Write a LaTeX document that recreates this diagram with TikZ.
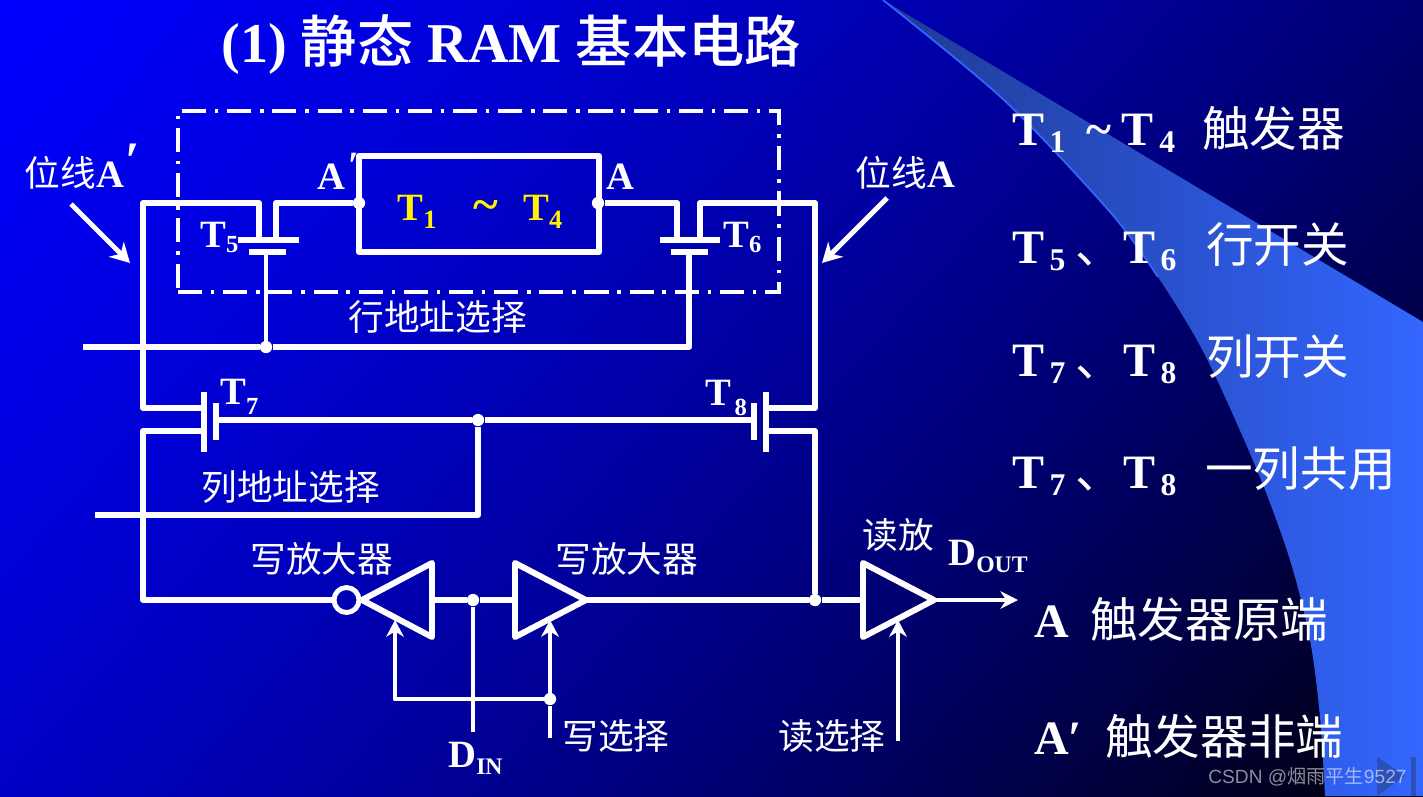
\documentclass[tikz,border=0pt]{standalone}
\usepackage{fontspec}
\setmainfont{Liberation Serif}
\newfontfamily\cjk{Noto Sans CJK SC}
\newfontfamily\cjkm{Noto Sans CJK SC Medium}
\newfontfamily\wmfont{Liberation Sans}
\usetikzlibrary{arrows.meta}
\definecolor{wingl}{HTML}{1F3A94}
\definecolor{wingm}{HTML}{3060E8}
\definecolor{wingr}{HTML}{3366FF}
\definecolor{navbl}{HTML}{2B50B8}
\pgfdeclarefunctionalshading{slidebg}{\pgfpoint{0bp}{0bp}}{\pgfpoint{100bp}{100bp}}{}{
  25 sub 50 div 1 exch sub 0.331 mul
  exch 25 sub 50 div 0.669 mul add
  dup dup mul 0.42 mul exch 0.55 mul add 1 exch sub
  0 0 3 -1 roll
}
\newcommand{\sz}[1]{\fontsize{#1pt}{#1pt}\selectfont}
\newcommand{\subn}[3]{\raisebox{-#2pt}{\sz{#3}#1}}
\newcommand{\dun}{{\mdseries\cjk\sz{26.9}\hspace{6pt}、\hspace{-6pt}}}
\begin{document}
\begin{tikzpicture}[x=0.02cm,y=-0.02cm]

\tikzstyle{wire} = [draw=white, line width=3.4pt, line join=round]
\tikzstyle{thin} = [draw=white, line width=2.8pt, line join=round]
\tikzstyle{dot} = [circle, fill=white, inner sep=0pt, minimum size=7pt]
\tikzstyle{sel} = [thin, -{Stealth[length=9.5pt,width=10pt,inset=3pt]}]
\tikzstyle{bitarr} = [thin, -{Stealth[length=11pt,width=12pt,inset=3.5pt]}]
\tikzstyle{txt} = [anchor=base west, inner sep=0pt, text=white]
\tikzstyle{zh} = [txt, font=\cjk\sz{20.3}]
\tikzstyle{zhb} = [txt, font=\cjk\sz{27.1}]
\tikzstyle{lab} = [txt, font=\bfseries\sz{22}]
\tikzstyle{big} = [txt, font=\bfseries\sz{27.3}]

\useasboundingbox (0,0) rectangle (1423,796);
\shade[shading=slidebg] (0,0) rectangle (1423,796);
\shade[left color=wingl, middle color=wingm, right color=wingr] (883,0) -- (1423,322) -- (1423,796) -- plot[smooth] coordinates {(1325,796) (1320,717) (1310,640) (1290,560) (1257,470) (1205,355) (1158,277) (1111,213) (1004,100) (883,0)} -- cycle;
\draw[wingr, line width=1pt] plot[smooth] coordinates {(1158,277) (1111,213) (1004,100) (883,0)};
\fill[navbl] (1377,757) -- (1405,776) -- (1377,796) -- cycle;
\fill[navbl] (1411,757) rectangle (1416,796);

% title
\node (title) [txt, font=\bfseries\sz{32}] at (221,62) {(1) {\mdseries\cjkm 静态} RAM {\mdseries\cjkm 基本电路}};

% dash-dot box and flip-flop
\node (cell) [draw=white, line width=1.8pt, dash pattern=on 13.7pt off 5pt on 2pt off 5pt, minimum width=12.02cm, minimum height=3.62cm] at (478.5,201.5) {};
\node (aprime) [lab] at (348,178) {′};
\node (ff) [wire, minimum width=4.8cm, minimum height=1.92cm, inner sep=0pt] at (479,204) {};
\node (ffl) [anchor=base, inner sep=0pt, text=yellow, font=\bfseries\sz{22}] at (480,220) {T\subn{1}{5}{15}\hspace{37\dimexpr0.5692pt}{\sz{27}\textasciitilde}\hspace{25\dimexpr0.5692pt}T\subn{4}{5}{15}};
\node (ja) [dot] at (359,203) {};
\node (jb) [dot] at (598,203) {};

% T5 and T6
\coordinate (t5a) at (259,240);
\coordinate (t5b) at (276,240);
\coordinate (t5cl) at (238,240);
\coordinate (t5cr) at (299,240);
\coordinate (t5gl) at (249,252);
\coordinate (t5gr) at (286,252);
\coordinate (t5g) at (266,252);
\coordinate (t6a) at (677,240);
\coordinate (t6b) at (700,240);
\coordinate (t6cl) at (660,240);
\coordinate (t6cr) at (720,240);
\coordinate (t6gl) at (671,252);
\coordinate (t6gr) at (708,252);
\coordinate (t6g) at (689,252);
\draw[wire] (t5cl) -- (t5cr);
\draw[wire] (t5gl) -- (t5gr);
\draw[wire] (t6cl) -- (t6cr);
\draw[wire] (t6gl) -- (t6gr);
\draw[wire] (t5b) |- (ja);
\draw[wire] (t6a) |- (jb);

% T7 and T8
\coordinate (t7u) at (204,392);
\coordinate (t7d) at (204,452);
\coordinate (t7gu) at (216,403);
\coordinate (t7gd) at (216,440);
\coordinate (t7g) at (216,420);
\coordinate (t7a) at (204,408);
\coordinate (t7b) at (204,431);
\coordinate (t8u) at (766,392);
\coordinate (t8d) at (766,452);
\coordinate (t8gu) at (754,403);
\coordinate (t8gd) at (754,440);
\coordinate (t8g) at (754,420);
\coordinate (t8a) at (766,408);
\coordinate (t8b) at (766,431);
\draw[wire] (t7u) -- (t7d);
\draw[wire] (t7gu) -- (t7gd);
\draw[wire] (t8u) -- (t8d);
\draw[wire] (t8gu) -- (t8gd);

% bit lines
\coordinate (bla) at (143,203);
\coordinate (blb) at (143,408);
\coordinate (blc) at (143,431);
\coordinate (brb) at (815,408);
\coordinate (brc) at (815,431);
\coordinate (brt) at (815,203);
\node (jo) [dot] at (815,600) {};
\draw[wire] (t5a) -- (t5a |- bla) -- (bla) -- (blb) -- (t7a);
\draw[wire] (t6b) -- (t6b |- brt) -- (brt) -- (brb) -- (t8a);
\draw[wire] (t8b) -- (brc) -- (jo);

% row and column select
\node (jr) [dot] at (266,347) {};
\node (jc) [dot] at (478,420) {};
\coordinate (rowin) at (83,347);
\coordinate (colin) at (95,515);
\coordinate (colc) at (478,515);
\draw[thin] (t5g) -- (jr);
\draw[wire] (rowin) -- (jr) -- (t6g |- jr) -- (t6g);
\draw[wire] (t7g) -- (jc) -- (t8g);
\draw[wire] (jc) -- (colc) -- (colin);

% amplifiers
\node (bub) [circle, draw=white, line width=2.8pt, inner sep=0pt, minimum size=5mm] at (346.5,600) {};
\coordinate (wla) at (362,600);
\coordinate (wlb) at (432,563);
\coordinate (wlc) at (432,637);
\coordinate (wli) at (432,600);
\coordinate (wra) at (586,600);
\coordinate (wrb) at (515,563);
\coordinate (wrc) at (515,637);
\coordinate (wri) at (515,600);
\coordinate (rda) at (934,600);
\coordinate (rdb) at (863,563);
\coordinate (rdc) at (863,637);
\coordinate (rdi) at (863,600);
\coordinate (bld) at (143,600);
\coordinate (dout) at (1018,600);
\node (jd) [dot] at (473,600) {};
\node (js) [dot] at (550,699) {};
\draw[wire] (wla) -- (wlb) -- (wlc) -- cycle;
\draw[wire] (wra) -- (wrb) -- (wrc) -- cycle;
\draw[wire] (rda) -- (rdb) -- (rdc) -- cycle;
\draw[wire] (t7b) -- (blc) -- (bld) -- (bub);
\draw[wire] (wli) -- (jd) -- (wri);
\draw[wire] (wra) -- (jo) -- (rdi);
\draw[thin, -{Stealth[length=10pt,width=10pt]}] (rda) -- (dout);

% select lines
\coordinate (din) at (473,732);
\coordinate (wsel) at (550,738);
\coordinate (wlt) at (395,620);
\coordinate (wrt) at (550,620);
\coordinate (wsc) at (395,699);
\coordinate (rsel) at (898,741);
\coordinate (rdt) at (898,620);
\draw[thin] (jd) -- (din);
\draw[thin] (wsel) -- (js);
\draw[sel] (js) -- (wrt);
\draw[sel] (js) -- (wsc) -- (wlt);
\draw[sel] (rsel) -- (rdt);

% bit line arrows
\coordinate (al0) at (71,204);
\coordinate (al1) at (130,263);
\coordinate (ar0) at (887,198);
\coordinate (ar1) at (822,263);
\draw[bitarr] (al0) -- (al1);
\draw[bitarr] (ar0) -- (ar1);

% circuit labels
\node (blla) [zh] at (24,186) {位线};
\node (bllb) [lab] at (96,187) {A};
\node (bllc) [txt, font=\bfseries\sz{30}] at (125,178) {′};
\node (blra) [zh] at (855,186) {位线};
\node (blrb) [lab] at (927,187) {A};
\node (qn) [lab] at (317,189) {A};
\node (q) [lab] at (606,189) {A};
\node (t5) [lab] at (200,247) {T\subn{5}{3}{14}};
\node (t6) [lab] at (723,247) {T\subn{6}{3}{14}};
\node (t7) [lab] at (220,404) {T\subn{7}{6}{14}};
\node (t8) [lab] at (705,405) {T\hspace{2pt}\subn{8}{6}{14}};
\node (rowl) [zh] at (348,330) {行地址选择};
\node (coll) [zh] at (201,500) {列地址选择};
\node (wal) [zh] at (250,572) {写放大器};
\node (war) [zh] at (555,572) {写放大器};
\node (rdl) [zh] at (862,548) {读放};
\node (doutl) [lab] at (948,565) {D\subn{OUT}{4}{13.5}};
\node (dinl) [lab] at (448,767) {D\subn{IN}{4}{13.5}};
\node (wsl) [zh] at (562,749) {写选择};
\node (rsl) [zh] at (778,749) {读选择};

% right column
\node (r1a) [big] at (1012,145) {T\hspace{3pt}\subn{1}{4.3}{18}\hspace{12pt}\textasciitilde\hspace{6pt}T\hspace{3pt}\subn{4}{4.3}{18}};
\node (r1b) [zhb] at (1202,146) {触发器};
\node (r2a) [big] at (1012,263) {T\hspace{3pt}\subn{5}{4.3}{18}\dun\hspace{6pt}T\hspace{3pt}\subn{6}{4.3}{18}};
\node (r2b) [zhb] at (1206,262) {行开关};
\node (r3a) [big] at (1012,376) {T\hspace{3pt}\subn{7}{4.3}{18}\dun\hspace{6pt}T\hspace{3pt}\subn{8}{4.3}{18}};
\node (r3b) [zhb] at (1206,374) {列开关};
\node (r4a) [big] at (1012,488) {T\hspace{3pt}\subn{7}{4.3}{18}\dun\hspace{6pt}T\hspace{3pt}\subn{8}{4.3}{18}};
\node (r4b) [zhb] at (1205,486) {一列共用};
\node (r5a) [big] at (1034,637) {A};
\node (r5b) [zhb] at (1090,637) {触发器原端};
\node (r6a) [big] at (1034,754) {A′};
\node (r6b) [zhb] at (1105,754) {触发器非端};

% watermark
\node (wm) [txt, text=white, opacity=0.55, font=\wmfont\sz{10.9}] at (1208,783) {CSDN @{\cjk 烟雨平生}9527};
\end{tikzpicture}
\end{document}
